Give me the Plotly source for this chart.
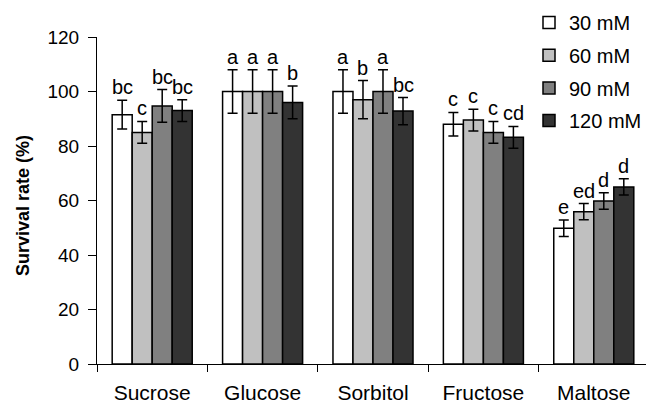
import plotly.graph_objects as go

categories = ["Sucrose", "Glucose", "Sorbitol", "Fructose", "Maltose"]
series_names = ["30 mM", "60 mM", "90 mM", "120 mM"]
values = {
    "30 mM":  [91.5, 100, 100, 88.0, 49.8],
    "60 mM":  [85.0, 100, 97.0, 89.5, 55.9],
    "90 mM":  [94.7, 100, 100, 85.0, 59.8],
    "120 mM": [93.0, 96.0, 92.8, 83.2, 65.0],
}
errors = {
    "30 mM":  [5.3, 8, 8, 4.3, 3.0],
    "60 mM":  [4.0, 8, 7, 4.0, 3.0],
    "90 mM":  [6.0, 8, 8, 4.0, 3.0],
    "120 mM": [4.0, 6, 5, 4.0, 3.0],
}
letters = {
    "30 mM":  ["bc", "a", "a", "c", "e"],
    "60 mM":  ["c", "a", "b", "c", "ed"],
    "90 mM":  ["bc", "a", "a", "c", "d"],
    "120 mM": ["bc", "b", "bc", "cd", "d"],
}
colors = ["#ffffff", "#c0c0c0", "#808080", "#333333"]
y_title = "Survival rate (%)"

FONT = "Arial, Liberation Sans, sans-serif"
W, H = 646, 403
ML, MR, MT, MB = 97, 0, 37, 39
BARGAP = 0.275
XRANGE = [-0.5, 4.473]
FS = 20

fig = go.Figure()
for i, name in enumerate(series_names):
    fig.add_trace(go.Bar(
        x=categories, y=values[name], name=name,
        marker=dict(color=colors[i], line=dict(color="black", width=1.5)),
        error_y=dict(type="data", array=errors[name], color="black",
                     thickness=1.5, width=5),
        legendgroup=name,
    ))

# significance letters above error bars
plot_w = W - ML - MR
px_per_cat = plot_w / (XRANGE[1] - XRANGE[0])
bar_px = px_per_cat * (1 - BARGAP) / len(series_names)
for i, name in enumerate(series_names):
    for c, cat in enumerate(categories):
        fig.add_annotation(
            x=cat, y=values[name][c] + errors[name][c],
            text=letters[name][c], showarrow=False,
            xanchor="center", yanchor="bottom",
            xshift=(i - (len(series_names) - 1) / 2) * bar_px, yshift=0,
            font=dict(family=FONT, size=FS, color="black"),
        )

# y-axis title
fig.add_annotation(
    xref="paper", yref="paper", x=0, y=0.483, xanchor="center", yanchor="middle",
    xshift=-74, text="<b>" + y_title + "</b>", textangle=-90, showarrow=False,
    font=dict(family=FONT, size=18, color="black"),
)

fig.update_layout(
    width=W, height=H,
    margin=dict(l=ML, r=MR, t=MT, b=MB, autoexpand=False),
    paper_bgcolor="white", plot_bgcolor="white",
    barmode="group", bargap=BARGAP, bargroupgap=0,
    font=dict(family=FONT, size=FS, color="black"),
    showlegend=True,
    legend=dict(xref="container", yref="container", x=529 / W, y=1 - 3 / H,
                xanchor="left", yanchor="top",
                font=dict(family=FONT, size=FS), bgcolor="rgba(0,0,0,0)",
                tracegroupgap=3.7, itemwidth=30),
    xaxis=dict(type="category", range=XRANGE, showline=True, linecolor="black",
               linewidth=1, ticks="outside", tickson="boundaries", ticklen=7,
               tickcolor="black", showgrid=False, zeroline=False, automargin=False,
               tickfont=dict(family=FONT, size=21), ticklabelstandoff=10),
    yaxis=dict(range=[0, 120], dtick=20, showline=True, linecolor="black",
               linewidth=1, ticks="outside", ticklen=8, tickcolor="black",
               showgrid=False, zeroline=False, automargin=False,
               tickfont=dict(family=FONT, size=19), ticklabelstandoff=5),
)

fig.write_html(
    "out.html",
    config={"displayModeBar": False},
    post_script="document.body.style.margin='0';document.body.style.overflow='hidden';",
)
